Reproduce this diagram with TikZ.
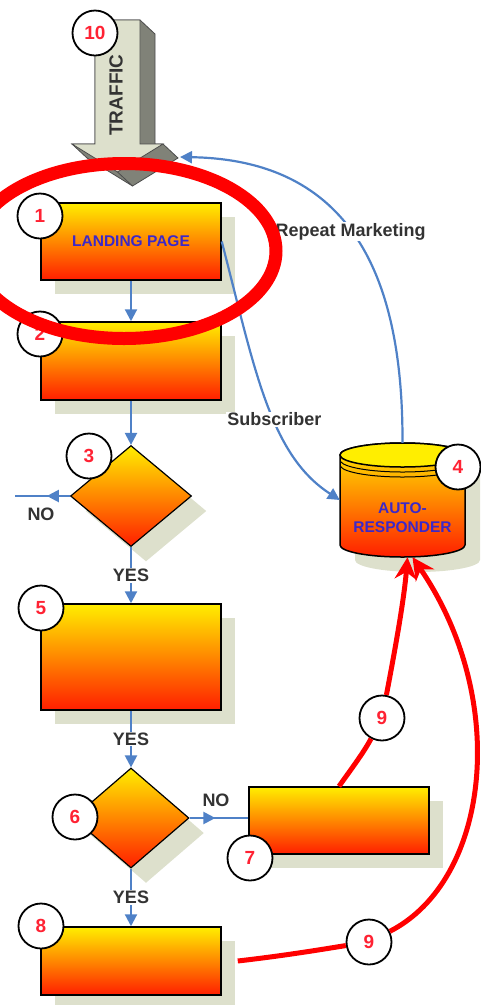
\documentclass[tikz,border=0pt]{standalone}
\usepackage{fontspec}
\setmainfont{Liberation Sans}
\usetikzlibrary{arrows.meta,shapes.geometric,shadows,decorations.markings}

\definecolor{boxyellow}{RGB}{255,238,0}
\definecolor{boxorange}{RGB}{255,135,0}
\definecolor{boxred}{RGB}{255,30,0}
\definecolor{shadowgray}{RGB}{221,224,204}
\definecolor{flowblue}{RGB}{79,129,199}
\definecolor{labelblue}{RGB}{60,40,200}
\definecolor{numred}{RGB}{255,34,51}
\definecolor{labelgray}{RGB}{51,51,51}
\definecolor{arrowlight}{RGB}{221,224,204}
\definecolor{arrowdark}{RGB}{128,130,120}

\tikzset{
    stepbox/.style={rectangle,draw=black,line width=1.5pt,top color=boxyellow,bottom color=boxred,middle color=boxorange,
        minimum width=180pt,inner sep=0pt,text=labelblue,font=\bfseries\fontsize{15.5}{17}\selectfont,
        drop shadow={shadow xshift=14pt,shadow yshift=-14pt,fill=shadowgray,opacity=1}},
    choice/.style={diamond,draw=black,line width=1.2pt,top color=boxyellow,bottom color=boxred,middle color=boxorange,
        inner sep=0pt,drop shadow={shadow xshift=15pt,shadow yshift=-15pt,fill=shadowgray,opacity=1}},
    num/.style={circle,draw=black,line width=1.8pt,fill=white,minimum size=45pt,inner sep=0pt,text=numred,
        font=\bfseries\fontsize{19}{20}\selectfont},
    blueflow/.style={draw=flowblue,line width=2.2pt,-{Triangle[width=12pt,length=12pt]}},
    midflow/.style={draw=flowblue,line width=2.2pt,postaction={decorate},
        decoration={markings,mark=at position #1 with {\arrow{Triangle[width=12pt,length=12pt,color=flowblue]}}}},
    answer/.style={text=labelgray,font=\bfseries\fontsize{18}{20}\selectfont,inner sep=1pt},
    hotline/.style={draw=red,line width=5pt},
    hot/.style={draw=red,line width=5pt,-{Stealth[length=22pt,width=22pt]}}
}

\begin{document}
    \begin{tikzpicture}[x=1pt,y=-1pt]
        \useasboundingbox (0,0) rectangle (481,1005);
        \fill [arrowdark] (95,20)--(140,20)--(155,34)--(155,144)--(163,144)--(178,158)--(132.5,186)--(87,158)--(72,144)--(95,144)--cycle;
        \draw [black!70,line width=0.8pt] (95,20)--(140,20)--(155,34)--(155,144)--(163,144)--(178,158)--(132.5,186)--(87,158)--(72,144)--(95,144)--cycle;
        \draw [black!70,line width=0.8pt] (117.5,172)--(132.5,186);
        \draw [fill=arrowlight,draw=black!70,line width=0.8pt] (95,20)--(140,20)--(140,144)--(163,144)--(117.5,172)--(72,144)--(95,144)--cycle;
        \node [rotate=90,text=labelgray,font=\bfseries\fontsize{19}{20}\selectfont] (trafficword) at (116,95) {TRAFFIC};
        \coordinate (traffic) at (180,157);

        \node [stepbox,minimum height=77pt] (page1) at (131,241.5) {LANDING PAGE};
        \node [stepbox,minimum height=78pt] (page2) at (131,361) {};
        \node [choice,minimum width=121pt,minimum height=101pt] (ask3) at (131,496) {};
        \node [stepbox,minimum height=106pt] (page5) at (131,657) {};
        \node [choice,minimum width=116pt,minimum height=100pt] (ask6) at (131,818) {};
        \node [stepbox,minimum height=67pt] (page7) at (339,820.5) {};
        \node [stepbox,minimum height=68pt] (page8) at (131,961) {};

        \fill [shadowgray] (355,470)--(355,560) arc [start angle=180,end angle=360,x radius=62.5pt,y radius=12pt]
            --(480,470) arc [start angle=0,end angle=180,x radius=62.5pt,y radius=12pt]--cycle;
        \draw [line width=1.5pt,top color=boxyellow,bottom color=boxred,middle color=boxorange] (340,455)--(340,545)
            arc [start angle=180,end angle=360,x radius=62.5pt,y radius=12pt]--(465,455)
            arc [start angle=0,end angle=180,x radius=62.5pt,y radius=12pt]--cycle;
        \draw [line width=1.5pt,fill=boxyellow] (402.5,455) ellipse [x radius=62.5pt,y radius=12pt];
        \draw [line width=1pt] (402.5,460) ++(188:62.5pt and 12pt) arc [start angle=188,end angle=352,x radius=62.5pt,y radius=12pt];
        \draw [line width=1pt] (402.5,465) ++(186:62.5pt and 12pt) arc [start angle=186,end angle=354,x radius=62.5pt,y radius=12pt];
        \node [minimum width=125pt,minimum height=114pt,inner sep=0pt] (responder) at (402.5,500) {};
        \node [align=center,text=labelblue,font=\bfseries\fontsize{15.5}{19}\selectfont] (respondertext) at (402.5,517.5) {AUTO-\\RESPONDER};

        \coordinate (drop3) at (15,496);
        \draw [blueflow] (page1)--(page2);
        \draw [blueflow] (page2)--(ask3);
        \draw [blueflow] (ask3)--node [answer,fill=white] {YES} (page5);
        \draw [blueflow] (page5)--node [answer,fill=white] {YES} (ask6);
        \draw [blueflow] (ask6)--node [answer,fill=white] {YES} (page8);
        \draw [midflow=0.42] (ask3.west)--(drop3);
        \node [answer] (no3) at (41,514) {NO};
        \draw [midflow=0.44] (ask6.east)--(ask6.east -| page7.west);
        \node [answer] (no6) at (216,800) {NO};
        \draw [blueflow] (page1.east) .. controls (255,370) and (270,455) .. node [answer,fill=white,pos=0.57] {Subscriber} (responder.west);
        \draw [blueflow] (responder.north) .. controls (403,290) and (360,160) .. node [answer,fill=white,pos=0.54] {Repeat Marketing} (traffic);

        \node [num] (badge10) at (95,33) {10};
        \node [num] (badge1) at (40,216) {1};
        \node [num] (badge2) at (40,334) {2};
        \node [num] (badge3) at (89,456) {3};
        \node [num] (badge4) at (458,467) {4};
        \node [num] (badge5) at (41,608) {5};
        \node [num] (badge6) at (75,817) {6};
        \node [num] (badge7) at (250,858) {7};
        \node [num] (badge8) at (41,926) {8};
        \node [num] (badge9a) at (382,718) {9};
        \node [num] (badge9b) at (369,942) {9};

        \draw [hotline] (page7.north) .. controls (352,768) and (364,752) .. (badge9a);
        \draw [hot] (badge9a) .. controls (395,650) and (404,600) .. ([xshift=5pt]responder.south);
        \draw [hotline] ([xshift=16pt]page8.east) .. controls (290,955) and (330,948) .. (badge9b);
        \draw [hot] (badge9b) .. controls (490,880) and (510,700) .. ([xshift=10pt]responder.south);

        \draw [red,line width=13pt] (124,251) ellipse [x radius=152pt,y radius=87.5pt];
    \end{tikzpicture}
\end{document}
